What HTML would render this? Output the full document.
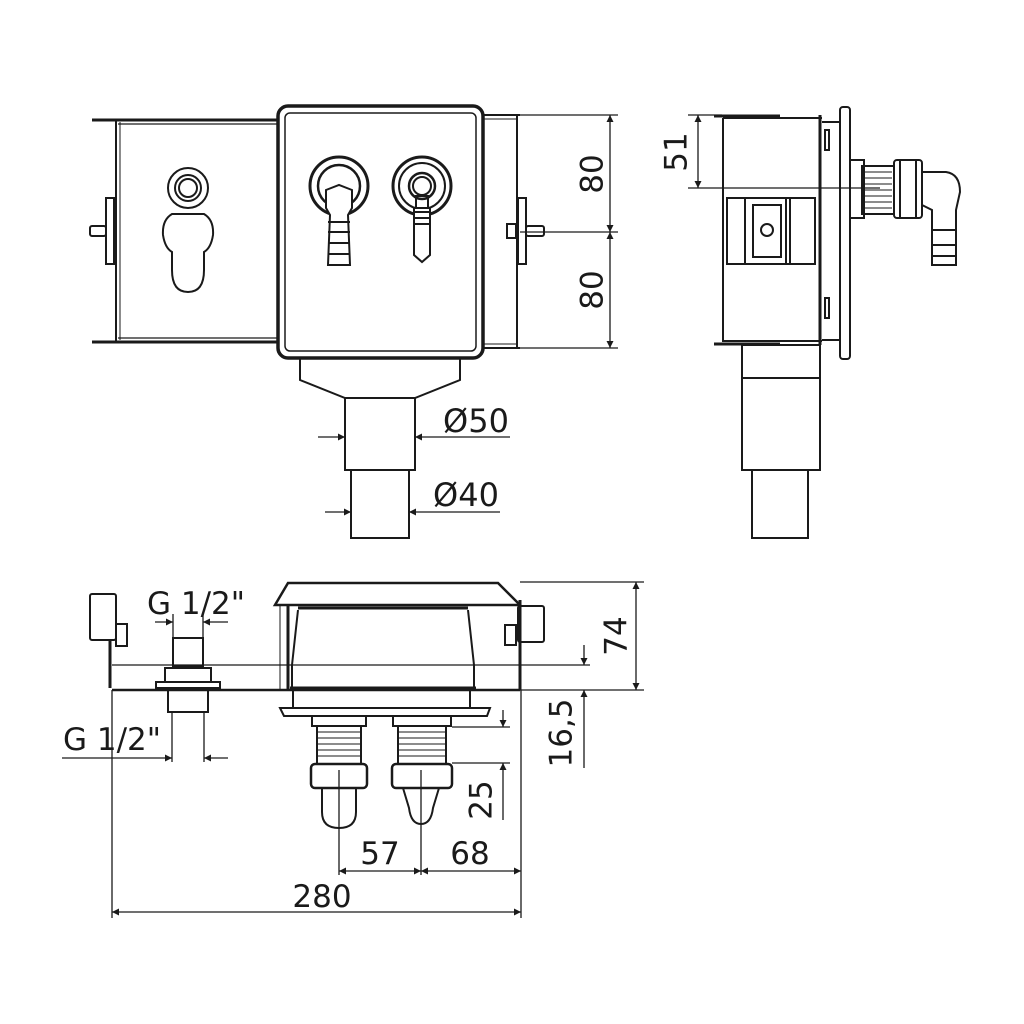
<!DOCTYPE html>
<html><head><meta charset="utf-8"><style>
html,body{margin:0;padding:0;background:#fff;}
svg{display:block}
text{font-family:"DejaVu Sans","Liberation Sans",sans-serif;fill:#1a1a1a}
</style></head><body>
<svg width="1024" height="1024" viewBox="0 0 1024 1024" xmlns="http://www.w3.org/2000/svg">
<defs>
<marker id="a" viewBox="0 0 10 10" refX="10" refY="5" markerWidth="12" markerHeight="7" orient="auto-start-reverse" markerUnits="userSpaceOnUse"><path d="M0,0 L10,5 L0,10 z" fill="#1a1a1a"/></marker>
</defs>
<g fill="none" stroke="#1a1a1a" stroke-width="2">
<line x1="92" y1="120" x2="278" y2="120" stroke-width="3"/>
<line x1="118" y1="124" x2="278" y2="124" stroke-width="1.2"/>
<line x1="92" y1="342" x2="278" y2="342" stroke-width="3"/>
<line x1="118" y1="338" x2="278" y2="338" stroke-width="1.2"/>
<line x1="116" y1="120" x2="116" y2="342"/><line x1="120" y1="122" x2="120" y2="340" stroke-width="1"/>
<rect x="106" y="198" width="8" height="66"/>
<rect x="90" y="226" width="16" height="10" rx="2"/>
<circle cx="188" cy="188" r="20"/><circle cx="188" cy="188" r="13"/><circle cx="188" cy="188" r="9"/>
<path d="M172,214 Q162,220 163,235 Q165,248 172,252 L172,270 Q172,292 188,292 Q204,292 204,270 L204,252 Q211,248 213,235 Q214,220 204,214 Z"/>
<line x1="172" y1="214" x2="204" y2="214"/>
<rect x="278" y="106" width="205" height="252" rx="10" stroke-width="3.5"/>
<rect x="285" y="113" width="191" height="238" rx="5" stroke-width="1.5"/>
<circle cx="339" cy="186" r="29" stroke-width="3"/><circle cx="339" cy="186" r="21" stroke-width="2.5"/>
<path d="M326,208 L326,190 L339,185 L352,190 L352,208 L348,215 L350,265 L328,265 L330,215 Z" fill="#fff"/>
<line x1="328" y1="222" x2="350" y2="222"/><line x1="328" y1="232" x2="350" y2="232"/><line x1="328" y1="243" x2="350" y2="243"/><line x1="328" y1="254" x2="350" y2="254"/>
<circle cx="422" cy="186" r="29" stroke-width="3"/><circle cx="422" cy="186" r="23"/><circle cx="422" cy="186" r="13" stroke-width="2.5"/><circle cx="422" cy="186" r="9"/>
<path d="M414,208 L430,208 L430,255 L422,262 L414,255 Z" fill="#fff"/>
<rect x="416" y="196" width="12" height="12"/>
<line x1="413" y1="212" x2="431" y2="212"/><line x1="413" y1="218" x2="431" y2="218"/><line x1="413" y1="224" x2="431" y2="224"/>
<line x1="483" y1="115" x2="520" y2="115"/><line x1="483" y1="119" x2="516" y2="119" stroke-width="1"/>
<line x1="483" y1="348" x2="520" y2="348"/><line x1="483" y1="344" x2="516" y2="344" stroke-width="1"/>
<line x1="517" y1="115" x2="517" y2="348"/>
<rect x="518" y="198" width="8" height="66"/>
<rect x="507" y="224" width="9" height="14"/>
<rect x="526" y="226" width="18" height="10" rx="2"/>
<path d="M300,358 L300,380 L345,398 L415,398 L460,380 L460,358"/>
<rect x="345" y="398" width="70" height="72"/>
<rect x="351" y="470" width="58" height="68"/>
</g>
<g stroke="#1a1a1a" stroke-width="1.3" fill="none">
<line x1="520" y1="115" x2="618" y2="115"/><line x1="520" y1="232" x2="618" y2="232"/><line x1="520" y1="348" x2="618" y2="348"/>
<line x1="610" y1="115" x2="610" y2="232" marker-start="url(#a)" marker-end="url(#a)"/>
<line x1="610" y1="232" x2="610" y2="348" marker-start="url(#a)" marker-end="url(#a)"/>
<line x1="318" y1="437" x2="345" y2="437" marker-end="url(#a)"/>
<line x1="510" y1="437" x2="415" y2="437" marker-end="url(#a)"/>
<line x1="325" y1="512" x2="351" y2="512" marker-end="url(#a)"/>
<line x1="500" y1="512" x2="409" y2="512" marker-end="url(#a)"/>
</g>
<text x="594" y="174" font-size="31" transform="rotate(-90 594 174)" text-anchor="middle" dominant-baseline="middle">80</text>
<text x="594" y="290" font-size="31" transform="rotate(-90 594 290)" text-anchor="middle" dominant-baseline="middle">80</text>
<text x="476" y="432" font-size="32" text-anchor="middle">Ø50</text>
<text x="466" y="506" font-size="32" text-anchor="middle">Ø40</text>

<g fill="none" stroke="#1a1a1a" stroke-width="2">
<line x1="714" y1="116" x2="780" y2="116" stroke-width="3"/>
<line x1="723" y1="118" x2="822" y2="118"/>
<line x1="723" y1="118" x2="723" y2="342"/>
<line x1="714" y1="344" x2="780" y2="344" stroke-width="3"/>
<line x1="723" y1="341" x2="822" y2="341"/>
<line x1="820" y1="115" x2="820" y2="345" stroke-width="3"/>
<line x1="822" y1="122" x2="840" y2="122"/><line x1="822" y1="340" x2="840" y2="340"/>
<rect x="840" y="107" width="10" height="252" rx="3"/>
<rect x="825" y="130" width="4" height="20"/><rect x="825" y="298" width="4" height="20"/>
<rect x="727" y="198" width="88" height="66"/>
<line x1="745" y1="198" x2="745" y2="264"/><line x1="786" y1="198" x2="786" y2="264"/><line x1="790" y1="198" x2="790" y2="264"/>
<rect x="753" y="205" width="28" height="52"/><circle cx="767" cy="230" r="6"/>
<rect x="850" y="160" width="14" height="58"/>
<rect x="862" y="166" width="32" height="48"/>
<g stroke-width="1"><line x1="864" y1="172" x2="892" y2="172"/><line x1="864" y1="178" x2="892" y2="178"/><line x1="864" y1="184" x2="892" y2="184"/><line x1="864" y1="190" x2="892" y2="190"/><line x1="864" y1="196" x2="892" y2="196"/><line x1="864" y1="202" x2="892" y2="202"/><line x1="864" y1="208" x2="892" y2="208"/></g>
<rect x="894" y="160" width="28" height="58" rx="3"/>
<line x1="900" y1="160" x2="900" y2="218"/><line x1="916" y1="160" x2="916" y2="218"/>
<path d="M922,172 L946,172 Q960,174 960,192 L956,210 L956,265 L932,265 L932,210 L922,205"/>
<line x1="932" y1="230" x2="956" y2="230"/><line x1="932" y1="245" x2="956" y2="245"/><line x1="932" y1="256" x2="956" y2="256"/>
<rect x="742" y="345" width="78" height="125"/><line x1="742" y1="378" x2="820" y2="378"/>
<rect x="752" y="470" width="56" height="68"/>
</g>
<g stroke="#1a1a1a" stroke-width="1.3"><line x1="688" y1="115" x2="722" y2="115"/><line x1="688" y1="188" x2="880" y2="188"/>
<line x1="698" y1="115" x2="698" y2="188" marker-start="url(#a)" marker-end="url(#a)"/></g>
<text x="678" y="152" font-size="31" transform="rotate(-90 678 152)" text-anchor="middle" dominant-baseline="middle">51</text>

<g fill="none" stroke="#1a1a1a" stroke-width="2">
<path d="M275,605 L288,583 L498,583 L520,605 Z" stroke-width="2.5"/>
<line x1="288" y1="605" x2="288" y2="690" stroke-width="3"/>
<line x1="280" y1="605" x2="280" y2="690" stroke-width="1"/>
<path d="M298,610 L292,665 L292,690 M468,610 L474,665 L474,690"/>
<line x1="298" y1="608" x2="468" y2="608" stroke-width="3"/>
<line x1="112" y1="665" x2="520" y2="665" stroke-width="1.2"/>
<line x1="112" y1="690" x2="520" y2="690" stroke-width="2.5"/>
<line x1="290" y1="688" x2="476" y2="688" stroke-width="3"/>
<line x1="293" y1="690" x2="293" y2="708"/><line x1="470" y1="690" x2="470" y2="708"/>
<path d="M280,708 L490,708 L487,716 L284,716 Z"/>
<rect x="90" y="594" width="26" height="46" rx="2"/><rect x="116" y="624" width="11" height="22"/>
<line x1="110" y1="640" x2="110" y2="688" stroke-width="3"/>
<rect x="518" y="606" width="26" height="36" rx="2"/><rect x="505" y="625" width="11" height="20"/>
<line x1="520" y1="600" x2="520" y2="690" stroke-width="3"/>
<rect x="173" y="638" width="30" height="28"/>
<path d="M165,668 L211,668 L211,682 L165,682 Z"/>
<rect x="156" y="682" width="64" height="6"/>
<rect x="168" y="690" width="40" height="22"/>
<rect x="312" y="716" width="54" height="10"/>
<rect x="317" y="726" width="44" height="38"/>
<g stroke-width="1"><line x1="317" y1="732" x2="361" y2="732"/><line x1="317" y1="738" x2="361" y2="738"/><line x1="317" y1="744" x2="361" y2="744"/><line x1="317" y1="750" x2="361" y2="750"/><line x1="317" y1="756" x2="361" y2="756"/></g>
<rect x="311" y="764" width="56" height="24" rx="4" stroke-width="2.5"/>
<path d="M322,788 L322,812 Q322,828 339,828 Q356,828 356,812 L356,788"/>
<rect x="393" y="716" width="58" height="10"/>
<rect x="398" y="726" width="48" height="38"/>
<g stroke-width="1"><line x1="398" y1="732" x2="446" y2="732"/><line x1="398" y1="738" x2="446" y2="738"/><line x1="398" y1="744" x2="446" y2="744"/><line x1="398" y1="750" x2="446" y2="750"/><line x1="398" y1="756" x2="446" y2="756"/></g>
<rect x="392" y="764" width="60" height="24" rx="4" stroke-width="2.5"/>
<path d="M403,788 L409,808 Q411,824 421,824 Q431,824 433,808 L439,788"/>
</g>
<g stroke="#1a1a1a" stroke-width="1.3" fill="none">
<line x1="520" y1="582" x2="644" y2="582"/><line x1="520" y1="690" x2="644" y2="690"/>
<line x1="636" y1="582" x2="636" y2="690" marker-start="url(#a)" marker-end="url(#a)"/>
<line x1="520" y1="665" x2="590" y2="665"/>
<line x1="584" y1="645" x2="584" y2="665" marker-end="url(#a)"/>
<line x1="584" y1="768" x2="584" y2="690" marker-end="url(#a)"/>
<line x1="452" y1="727" x2="510" y2="727"/><line x1="452" y1="763" x2="510" y2="763"/>
<line x1="503" y1="710" x2="503" y2="727" marker-end="url(#a)"/>
<line x1="503" y1="820" x2="503" y2="763" marker-end="url(#a)"/>
<line x1="339" y1="770" x2="339" y2="875"/><line x1="421" y1="770" x2="421" y2="875"/>
<line x1="521" y1="690" x2="521" y2="918"/><line x1="112" y1="690" x2="112" y2="918"/>
<line x1="339" y1="871" x2="421" y2="871" marker-start="url(#a)" marker-end="url(#a)"/>
<line x1="421" y1="871" x2="521" y2="871" marker-start="url(#a)" marker-end="url(#a)"/>
<line x1="112" y1="912" x2="521" y2="912" marker-start="url(#a)" marker-end="url(#a)"/>
<line x1="173" y1="614" x2="173" y2="640"/><line x1="203" y1="614" x2="203" y2="640"/>
<line x1="155" y1="622" x2="173" y2="622" marker-end="url(#a)"/>
<line x1="228" y1="622" x2="203" y2="622" marker-end="url(#a)"/>
<line x1="172" y1="712" x2="172" y2="762"/><line x1="204" y1="712" x2="204" y2="762"/>
<line x1="62" y1="758" x2="172" y2="758" marker-end="url(#a)"/>
<line x1="228" y1="758" x2="204" y2="758" marker-end="url(#a)"/>
</g>
<text x="196" y="614" font-size="31" text-anchor="middle">G 1/2"</text>
<text x="112" y="750" font-size="31" text-anchor="middle">G 1/2"</text>
<text x="618" y="636" font-size="31" transform="rotate(-90 618 636)" text-anchor="middle" dominant-baseline="middle">74</text>
<text x="563" y="733" font-size="31" transform="rotate(-90 563 733)" text-anchor="middle" dominant-baseline="middle">16,5</text>
<text x="483" y="800" font-size="31" transform="rotate(-90 483 800)" text-anchor="middle" dominant-baseline="middle">25</text>
<text x="380" y="864" font-size="31" text-anchor="middle">57</text>
<text x="470" y="864" font-size="31" text-anchor="middle">68</text>
<text x="322" y="907" font-size="31" text-anchor="middle">280</text>
</svg>
</body></html>
